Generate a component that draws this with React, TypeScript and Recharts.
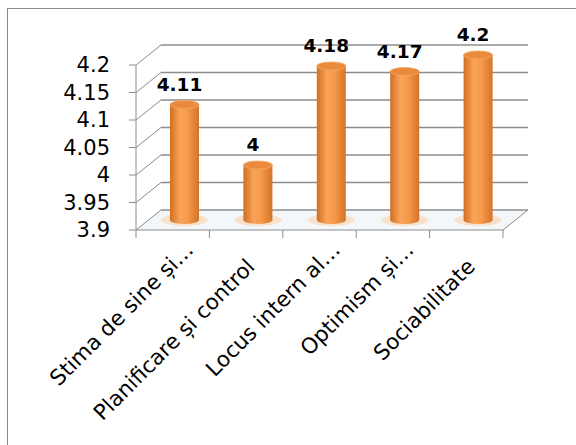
import { BarChart, Bar, XAxis, YAxis, CartesianGrid } from 'recharts'

const categories = [
  'Stima de sine și…',
  'Planificare și control',
  'Locus intern al…',
  'Optimism și…',
  'Sociabilitate',
]
const scores = [4.11, 4, 4.18, 4.17, 4.2]
const yTicks = [3.9, 3.95, 4, 4.05, 4.1, 4.15, 4.2]

const data = categories.map((name, i) => ({ name, value: scores[i] }))

// fake 3d: back wall offset and bar (mid depth) offset
const DEPTH_X = 25
const DEPTH_Y = -20
const MID_X = 12
const MID_Y = -10
const FLOOR_Y = 230
const GRID = '#8c8c8c'
const FONT = '"DejaVu Sans", sans-serif'

const gridLine = (p: any) => {
  const { x1, y1, x2, y2, index } = p
  const isFloor = Math.abs(y1 - FLOOR_Y) < 1
  return (
    <g key={`g-${index}`}>
      {isFloor && (
        <polygon
          points={`${x1},${y1} ${x2},${y2} ${x2 + DEPTH_X},${y2 + DEPTH_Y} ${x1 + DEPTH_X},${y1 + DEPTH_Y}`}
          fill="#f3f7fa"
        />
      )}
      <line x1={x1 + DEPTH_X} y1={y1 + DEPTH_Y} x2={x2 + DEPTH_X} y2={y2 + DEPTH_Y} stroke={GRID} strokeWidth={1.3} />
      <line x1={x1} y1={y1} x2={x1 + DEPTH_X} y2={y1 + DEPTH_Y} stroke={GRID} strokeWidth={1} />
      {isFloor && <line x1={x2} y1={y2} x2={x2 + DEPTH_X} y2={y2 + DEPTH_Y} stroke={GRID} strokeWidth={1} />}
    </g>
  )
}

const Cylinder = (p: any) => {
  const { x, y, width, height, index } = p
  const bx = x + MID_X
  const by = y + MID_Y
  const cx = bx + width / 2
  const rx = width / 2
  const ry = 4
  const gid = `cyl-${index}`
  return (
    <g>
      <defs>
        <linearGradient id={gid} x1="0" y1="0" x2="1" y2="0">
          <stop offset="0%" stopColor="#cf6f22" />
          <stop offset="35%" stopColor="#f9a45a" />
          <stop offset="60%" stopColor="#f79a4b" />
          <stop offset="100%" stopColor="#d4742a" />
        </linearGradient>
      </defs>
      <ellipse cx={cx} cy={by + height} rx={rx + 9} ry={6} fill="#fbd3b0" opacity={0.6} />
      <rect x={bx} y={by} width={width} height={height} fill={`url(#${gid})`} />
      <ellipse cx={cx} cy={by + height} rx={rx} ry={ry} fill={`url(#${gid})`} />
      <ellipse cx={cx} cy={by} rx={rx} ry={ry} fill="#ea8a3c" stroke="#f5a763" strokeWidth={0.8} />
    </g>
  )
}

const valueLabel = (p: any) => {
  const { x, y, width, value, index } = p
  return (
    <text
      key={`lbl-${index}`}
      x={x + MID_X + width / 2 - 5}
      y={y + MID_Y - 14}
      textAnchor="middle"
      fontFamily={FONT}
      fontWeight="bold"
      fontSize={18.5}
      fill="#000"
    >
      {value}
    </text>
  )
}

const CategoryTick = (p: any) => {
  const { x, y, payload, index, visibleTicksCount } = p
  const half = payload.offset || 36.7
  const truncated = String(payload.value).endsWith('…')
  const ex = x + (truncated ? 22 : 10)
  const ey = y + (truncated ? 21 : 38)
  return (
    <g>
      <line x1={x - half} y1={y} x2={x - half} y2={y + 8} stroke={GRID} />
      {index === visibleTicksCount - 1 && <line x1={x + half} y1={y} x2={x + half} y2={y + 8} stroke={GRID} />}
      <text
        x={ex}
        y={ey}
        transform={`rotate(-45 ${ex} ${ey})`}
        textAnchor="end"
        fontFamily={FONT}
        fontSize={21.5}
        fill="#000"
      >
        {payload.value}
      </text>
    </g>
  )
}

export default function App() {
  return (
    <div style={{ position: 'absolute', left: 0, top: 0, width: 576, height: 445, overflow: 'hidden', background: '#fff' }}>
      <div style={{ position: 'absolute', left: 7, top: 8, width: 620, height: 500, border: '1px solid #8a8a8a' }} />
      <div style={{ position: 'absolute', left: 0, top: 0 }}>
        <BarChart width={576} height={445} data={data} margin={{ top: 65, right: 73, bottom: 185, left: 56 }} barSize={29}>
          <CartesianGrid vertical={false} horizontal={gridLine} />
          <XAxis
            dataKey="name"
            interval={0}
            height={30}
            tickSize={0}
            tickMargin={0}
            axisLine={{ stroke: GRID }}
            tickLine={false}
            tick={<CategoryTick />}
          />
          <YAxis
            width={80}
            domain={[3.9, 4.2]}
            ticks={yTicks}
            interval={0}
            tickSize={7}
            tickMargin={19}
            axisLine={{ stroke: GRID }}
            tickLine={{ stroke: GRID }}
            tickFormatter={(v) => String(Number(Number(v).toFixed(2)))}
            tick={{ fontSize: 21, fill: '#000', fontFamily: FONT }}
          />
          <Bar dataKey="value" shape={<Cylinder />} label={valueLabel} isAnimationActive={false} />
        </BarChart>
      </div>
    </div>
  )
}
